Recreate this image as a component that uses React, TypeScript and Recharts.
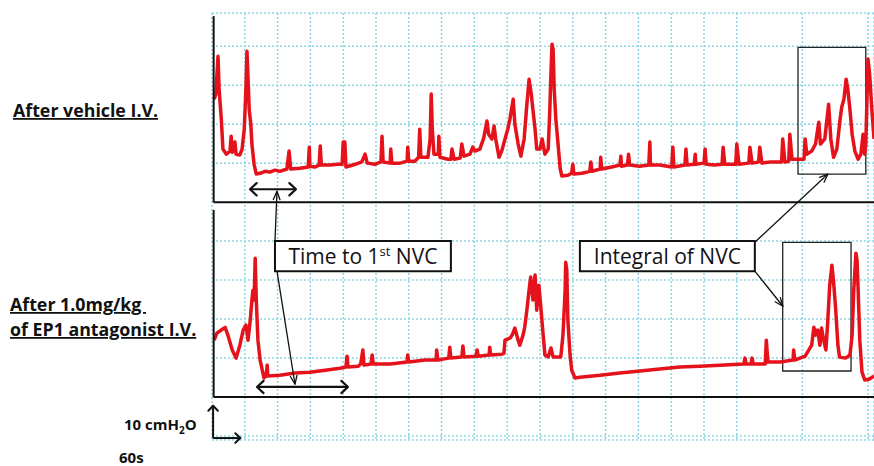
import React from 'react';
import { ComposedChart, Line, XAxis, YAxis, CartesianGrid, ReferenceLine, ReferenceArea } from 'recharts';

// time (s) / bladder pressure (cmH2O)
const vehicleTrace: [number, number][] = [
  [4, 26.4], [7, 27.7], [11, 37.4], [13, 29], [17, 21.3], [20, 13.6], [26, 12.3], [33, 13.1], [35, 16.9], [37, 12.8],
  [40, 13.6], [42, 15.4], [44, 12.3], [51, 12.1], [55, 13.6], [59, 18.7], [62, 29], [64, 38.7], [66, 31.5], [68, 23.8],
  [71, 20], [73, 14.9], [77, 9.7], [81, 7.2], [88, 7.4], [97, 7.9], [106, 7.7], [115, 8.2], [124, 7.9], [137, 8.5],
  [141, 13.1], [144, 8.5], [161, 8.7], [176, 9], [178, 14.1], [179, 9.2], [188, 9], [196, 9.5], [198, 14.4], [200, 9.5],
  [216, 9.5], [229, 9.7], [238, 9.7], [240, 15.4], [243, 15.4], [245, 9], [262, 9.7], [274, 10.3], [280, 12.3], [284, 10],
  [298, 9.7], [309, 10.3], [311, 16.9], [313, 10.3], [326, 10], [327, 13.6], [329, 10], [344, 10], [357, 10.5], [358, 14.1],
  [360, 10.5], [371, 10.5], [378, 11.5], [380, 18.7], [382, 11.5], [395, 11.5], [399, 16.2], [401, 27.7], [403, 18.7], [406, 12.3],
  [414, 12.3], [415, 16.9], [417, 11.5], [432, 11], [437, 11], [439, 13.6], [443, 11], [454, 11.3], [457, 14.9], [461, 11.8],
  [472, 12.3], [477, 14.1], [481, 13.1], [490, 13.6], [497, 16.4], [503, 20.8], [506, 17.4], [512, 16.2], [516, 19.5], [519, 16.2],
  [525, 11.5], [530, 13.1], [536, 16.2], [541, 18.7], [545, 21.3], [551, 26.4], [554, 20], [560, 14.9], [565, 11.8], [571, 16.2],
  [576, 25.1], [580, 31.5], [584, 27.7], [587, 23.8], [591, 18.7], [594, 13.6], [600, 13.6], [604, 16.2], [609, 12.3], [615, 13.6],
  [618, 23.8], [620, 32.8], [622, 40.5], [624, 39.2], [626, 29], [629, 21.3], [633, 14.9], [637, 8.5], [640, 6.7], [651, 6.9],
  [658, 7.4], [660, 9.7], [662, 7.2], [677, 7.4], [691, 7.9], [693, 10.3], [695, 7.9], [710, 8.5], [711, 11.5], [713, 8.5],
  [731, 9], [746, 9.5], [748, 11.8], [749, 9.2], [760, 9.5], [762, 12.3], [764, 9.5], [782, 9.2], [799, 9.5], [801, 15.4],
  [802, 9.5], [819, 9.5], [841, 9], [843, 14.1], [845, 9], [865, 9.5], [867, 13.6], [869, 9.5], [882, 9.7], [884, 12.3],
  [885, 9.7], [900, 10], [902, 13.6], [904, 9.7], [920, 9.5], [933, 9.7], [935, 14.1], [938, 9.7], [958, 9.7], [960, 14.9],
  [964, 9.7], [982, 10], [984, 14.1], [988, 10], [1000, 10.3], [1002, 14.1], [1006, 10], [1021, 10.3], [1030, 10.3], [1042, 10.3],
  [1044, 16.2], [1048, 10.3], [1055, 10.5], [1057, 17.4], [1061, 11], [1075, 11], [1083, 11], [1085, 16.2], [1088, 12.3], [1097, 13.1],
  [1104, 14.9], [1110, 20.5], [1113, 14.9], [1121, 16.2], [1128, 25.1], [1132, 16.2], [1137, 11.5], [1143, 13.6], [1149, 21.3], [1152, 24.4],
  [1156, 26.4], [1160, 31.5], [1163, 29], [1167, 23.8], [1171, 17.4], [1176, 13.1], [1182, 11], [1187, 12.3], [1191, 17.4], [1194, 12.3],
  [1196, 14.9], [1200, 36.7], [1203, 32.8], [1207, 23.8], [1211, 16.2],
];

const antagonistTrace: [number, number][] = [
  [4, 14.6], [9, 16.4], [17, 17.2], [24, 17.9], [29, 15.9], [37, 12.1], [44, 10], [51, 13.3], [57, 17.2], [62, 18.5],
  [66, 14.6], [70, 19.7], [73, 24.9], [75, 27.4], [77, 24.9], [79, 35.6], [81, 24.9], [84, 14.6], [88, 9.5], [92, 6.9],
  [95, 4.9], [99, 5.4], [101, 8.2], [102, 5.4], [124, 5.6], [152, 6.2], [179, 6.4], [207, 6.9], [234, 7.4], [245, 7.7],
  [247, 10.5], [249, 7.7], [267, 7.9], [272, 8.5], [276, 12.1], [278, 8.2], [291, 8.5], [293, 10.8], [295, 8.5], [326, 8.5],
  [357, 9], [358, 10.8], [360, 9], [390, 9.5], [410, 9.5], [411, 12.1], [413, 9.5], [433, 10], [435, 12.8], [437, 10],
  [457, 10.3], [459, 13.1], [461, 10.3], [483, 10.5], [485, 12.1], [487, 10.5], [507, 10.8], [508, 12.8], [510, 10.8], [530, 11],
  [534, 11.2], [536, 14.6], [545, 15.1], [549, 15.9], [554, 17.7], [560, 14.6], [563, 13.3], [569, 15.9], [572, 17.9], [576, 22.3],
  [580, 27.4], [583, 30.8], [587, 24.9], [591, 31.3], [594, 22.3], [598, 28.7], [602, 22.3], [605, 17.2], [609, 10.8], [615, 10.3],
  [620, 12.6], [624, 10.3], [638, 10.3], [642, 15.9], [646, 27.4], [647, 34.6], [649, 32.6], [651, 19.7], [655, 10.8], [658, 6.9],
  [664, 4.9], [673, 5.1], [710, 5.6], [746, 6.2], [783, 6.7], [819, 7.2], [856, 7.7], [892, 7.9], [929, 8.2], [973, 8.5],
  [975, 10], [977, 8.5], [986, 8.5], [988, 10], [990, 8.5], [1010, 8.5], [1012, 8.5], [1014, 14.6], [1017, 9], [1039, 9],
  [1063, 9.5], [1064, 12.1], [1066, 9.5], [1085, 10.5], [1094, 12.6], [1097, 13.3], [1101, 17.9], [1104, 15.9], [1108, 17.2], [1112, 13.3],
  [1115, 17.7], [1119, 14.6], [1123, 12.1], [1126, 18.5], [1130, 28.7], [1134, 33.8], [1137, 29.7], [1141, 22.3], [1145, 13.3], [1148, 10.3],
  [1159, 10], [1167, 10.8], [1171, 15.9], [1174, 27.4], [1178, 36.9], [1180, 35.1], [1182, 27.4], [1185, 14.6], [1189, 6.4], [1194, 4.4],
  [1202, 4.6], [1211, 5.4],
];

const timeTicks = [0, 60, 120, 180, 240, 300, 360, 420, 480, 540, 600, 660, 720, 780, 840, 900, 960, 1020, 1080, 1140, 1200];
const pressureTicks = [-10, 0, 10, 20, 30, 40, 50, 60, 70, 80, 90];

const vehicleData = vehicleTrace.map(([t, p]) => ({ t, p }));
const antagonistData = antagonistTrace.map(([t, p]) => ({ t, p }));

const RED = '#e5121b';
const GRID = '#8fd6e2';
const FONT = '"Open Sans", "DejaVu Sans", sans-serif';

function arrowShape(o: { start?: boolean; end?: boolean; w: number; len: number; spread: number }) {
  return (props: any) => {
    const { x1, y1, x2, y2 } = props;
    if ([x1, y1, x2, y2].some((v) => typeof v !== 'number' || isNaN(v))) return <g />;
    const ang = Math.atan2(y2 - y1, x2 - x1);
    const head = (x: number, y: number, a: number, k: string) => {
      const ax = x - o.len * Math.cos(a - o.spread);
      const ay = y - o.len * Math.sin(a - o.spread);
      const bx = x - o.len * Math.cos(a + o.spread);
      const by = y - o.len * Math.sin(a + o.spread);
      return (
        <polyline key={k} points={`${ax},${ay} ${x},${y} ${bx},${by}`} fill="none" stroke="#111" strokeWidth={o.w} strokeLinecap="round" strokeLinejoin="round" />
      );
    };
    return (
      <g>
        <line x1={x1} y1={y1} x2={x2} y2={y2} stroke="#111" strokeWidth={o.w} />
        {o.end ? head(x2, y2, ang, 'e') : null}
        {o.start ? head(x1, y1, ang + Math.PI, 's') : null}
      </g>
    );
  };
}

const boxLabel = (content: React.ReactNode) => (props: any) => {
  const vb = props.viewBox || {};
  const cx = (vb.x ?? 0) + (vb.width ?? 0) / 2;
  const cy = (vb.y ?? 0) + (vb.height ?? 0) / 2;
  return (
    <text x={cx} y={cy + 7.5} textAnchor="middle" fontFamily={FONT} fontSize={21} fill="#111">
      {content}
    </text>
  );
};

export default function App() {
  const thinArrow = arrowShape({ end: true, w: 1.3, len: 9, spread: 0.38 });
  const dblArrow = arrowShape({ start: true, end: true, w: 2.2, len: 9, spread: 0.75 });
  const scaleArrow = arrowShape({ end: true, w: 2, len: 7, spread: 0.75 });
  return (
    <div style={{ position: 'absolute', left: 0, top: 0, width: 874, height: 466, background: '#fff', overflow: 'hidden' }}>
      <ComposedChart width={874} height={466} margin={{ top: 13, right: 0, bottom: 26, left: 212 }}>
        <XAxis type="number" dataKey="t" domain={[0, 1211]} ticks={timeTicks} hide allowDataOverflow />
        <YAxis yAxisId="bottom" type="number" domain={[-11, 98.5]} ticks={pressureTicks} hide allowDataOverflow />
        <YAxis yAxisId="top" type="number" domain={[-61, 48.5]} hide allowDataOverflow />
        <CartesianGrid yAxisId="bottom" stroke={GRID} strokeWidth={1.5} strokeDasharray="2 2" />

        <Line yAxisId="top" data={vehicleData} dataKey="p" type="linear" stroke={RED} strokeWidth={3.5} dot={false} isAnimationActive={false} strokeLinejoin="round" />
        <Line yAxisId="bottom" data={antagonistData} dataKey="p" type="linear" stroke={RED} strokeWidth={3.5} dot={false} isAnimationActive={false} strokeLinejoin="round" />

        {/* panel axes */}
        <ReferenceLine yAxisId="top" segment={[{ x: 3, y: 0 }, { x: 3, y: 47.7 }]} stroke="#111" strokeWidth={2} />
        <ReferenceLine yAxisId="top" segment={[{ x: 3, y: 0 }, { x: 1211, y: 0 }]} stroke="#111" strokeWidth={2} />
        <ReferenceLine yAxisId="bottom" segment={[{ x: 3, y: 0 }, { x: 3, y: 48 }]} stroke="#111" strokeWidth={2} />
        <ReferenceLine yAxisId="bottom" segment={[{ x: 3, y: 0 }, { x: 1211, y: 0 }]} stroke="#111" strokeWidth={2} />

        {/* NVC windows */}
        <ReferenceArea yAxisId="top" x1={1072} x2={1196} y1={7.2} y2={39.7} fill="none" fillOpacity={0} stroke="#222" strokeWidth={1.3} />
        <ReferenceArea yAxisId="bottom" x1={1044} x2={1169} y1={6.7} y2={39.7} fill="none" fillOpacity={0} stroke="#222" strokeWidth={1.3} />

        {/* time-to-first-NVC double arrows */}
        <ReferenceLine yAxisId="top" segment={[{ x: 69.5, y: 3.3 }, { x: 153.6, y: 3.3 }]} shape={dblArrow} />
        <ReferenceLine yAxisId="bottom" segment={[{ x: 82.3, y: 2.6 }, { x: 248.7, y: 2.6 }]} shape={dblArrow} />

        {/* callout lines */}
        <ReferenceLine yAxisId="bottom" segment={[{ x: 115.2, y: 40 }, { x: 118.9, y: 52.8 }]} shape={thinArrow} />
        <ReferenceLine yAxisId="bottom" segment={[{ x: 118.9, y: 32.3 }, { x: 151.8, y: 3.3 }]} shape={thinArrow} />
        <ReferenceLine yAxisId="bottom" segment={[{ x: 993, y: 39.7 }, { x: 1126.7, y: 57.2 }]} shape={thinArrow} />
        <ReferenceLine yAxisId="bottom" segment={[{ x: 993, y: 32.3 }, { x: 1044.4, y: 23.3 }]} shape={thinArrow} />

        {/* callout boxes */}
        <ReferenceArea
          yAxisId="bottom" x1={115.2} x2={437} y1={32.3} y2={40} fill="#fff" fillOpacity={1} stroke="#111" strokeWidth={2}
          label={boxLabel(<>Time to 1<tspan dy={-8} fontSize={13}>st</tspan><tspan dy={8}> NVC</tspan></>)}
        />
        <ReferenceArea
          yAxisId="bottom" x1={673} x2={993} y1={32.3} y2={40} fill="#fff" fillOpacity={1} stroke="#111" strokeWidth={2}
          label={boxLabel('Integral of NVC')}
        />

        {/* scale bar */}
        <ReferenceLine yAxisId="bottom" segment={[{ x: 2, y: -10.5 }, { x: 2, y: -2.2 }]} shape={scaleArrow} />
        <ReferenceLine yAxisId="bottom" segment={[{ x: 2, y: -10.5 }, { x: 52, y: -10.5 }]} shape={scaleArrow} />
      </ComposedChart>

      <svg width={874} height={466} style={{ position: 'absolute', left: 0, top: 0, pointerEvents: 'none' }}>
        <g fontFamily={FONT} fontWeight={700} fill="#111">
          <text x={13} y={117} fontSize={17.8} textDecoration="underline">After vehicle I.V.</text>
          <text x={10} y={311} fontSize={17.8} textDecoration="underline" style={{ whiteSpace: 'pre' }}>After 1.0mg/kg </text>
          <text x={10} y={336} fontSize={17.8} textDecoration="underline">of EP1 antagonist I.V.</text>
          <text x={124} y={430} fontSize={15}>10 cmH<tspan dy={3.5} fontSize={10}>2</tspan><tspan dy={-3.5}>O</tspan></text>
          <text x={119} y={463} fontSize={15}>60s</text>
        </g>
      </svg>
    </div>
  );
}
